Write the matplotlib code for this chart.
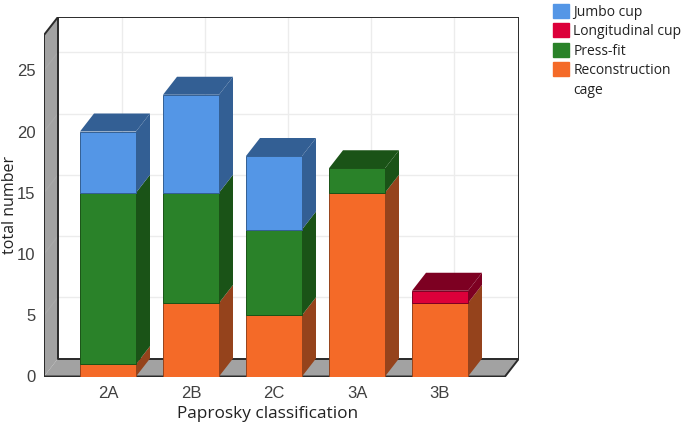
"""Stacked pseudo-3D bars of implant type per Paprosky class."""

import numpy as np
import matplotlib
matplotlib.use("Agg")
import matplotlib.pyplot as plt
from matplotlib.patches import Patch

categories = ["2A", "2B", "2C", "3A", "3B"]
reconstruction = [1, 6, 5, 15, 6]
press_fit = [14, 9, 7, 2, 0]
longitudinal = [0, 0, 0, 0, 1]
jumbo = [5, 8, 6, 0, 0]
y_ticks = [0, 5, 10, 15, 20, 25]
y_top = 27.88

series = [
    ("Reconstruction", reconstruction, "#f46a28", "#95431c"),
    ("Press-fit", press_fit, "#2a8229", "#1a5317"),
    ("Longitudinal cup", longitudinal, "#dc003a", "#7d0022"),
    ("Jumbo cup", jumbo, "#5496e6", "#335f94"),
]

W, H = 685, 424
PITCH = 83.0  # px per category
UNIT = 12.25  # px per count
DX = 14 / PITCH
DY = 18 / UNIT
BAR_W = 56 / PITCH
X_LEFT = -64 / PITCH
X_RIGHT = X_LEFT + 461 / PITCH

fig = plt.figure(figsize=(W / 100, H / 100), dpi=100)
ax_left, ax_bottom = 44, H - 376.5
ax_w = 475
ax_h = (y_top * UNIT) + 18
ax = fig.add_axes([ax_left / W, ax_bottom / H, ax_w / W, ax_h / H])
ax.set_xlim(X_LEFT, X_LEFT + ax_w / PITCH)
ax.set_ylim(0, ax_h / UNIT)
for spine in ax.spines.values():
    spine.set_visible(False)
ax.patch.set_alpha(0)

EDGE = "#2a2a2a"
GRID = "#ececec"

# walls and floor
ax.fill([X_LEFT, X_LEFT + DX, X_LEFT + DX, X_LEFT],
        [0, DY, y_top + DY, y_top], color="#a2a2a2", lw=0, zorder=1)
ax.fill([X_LEFT, X_RIGHT, X_RIGHT + DX, X_LEFT + DX],
        [0, 0, DY, DY], color="#a2a2a2", lw=0, zorder=1)

# grid sits on the back wall, with faint traces across the side wall
for v in y_ticks[1:]:
    ax.plot([X_LEFT + DX, X_RIGHT + DX], [v + DY, v + DY], color=GRID, lw=1.0, zorder=1.5)
    ax.plot([X_LEFT, X_LEFT + DX], [v, v + DY], color="#a9a9a9", lw=0.8, zorder=1.5)
for i in range(len(categories)):
    ax.plot([i + DX, i + DX], [DY, y_top + DY], color=GRID, lw=1.0, zorder=1.5)

ax.plot([X_LEFT + DX, X_RIGHT + DX, X_RIGHT + DX, X_LEFT + DX, X_LEFT + DX],
        [y_top + DY, y_top + DY, DY, DY, y_top + DY], color=EDGE, lw=1.4, zorder=2)
ax.plot([X_LEFT + DX, X_LEFT, X_LEFT, X_RIGHT, X_RIGHT + DX],
        [y_top + DY, y_top, 0, 0, DY], color=EDGE, lw=1.4, zorder=2)

# stacked bars, left to right so later bars overlap properly
bottoms = np.zeros(len(categories))
tops = np.sum([s[1] for s in series], axis=0)
for name, values, front, dark in series:
    values = np.array(values, dtype=float)
    for i, (v, b) in enumerate(zip(values, bottoms)):
        if v == 0:
            continue
        x0 = i - BAR_W / 2
        x1 = i + BAR_W / 2
        ax.bar(i, v, BAR_W, bottom=b, color=front, edgecolor=dark, lw=0.7, zorder=3)
        ax.fill([x1, x1 + DX, x1 + DX, x1], [b, b + DY, b + v + DY, b + v],
                color=dark, lw=0, zorder=3)
        if b + v == tops[i]:
            ax.fill([x0, x1, x1 + DX, x0 + DX],
                    [b + v, b + v, b + v + DY, b + v + DY], color=dark, lw=0, zorder=3)
    bottoms += values

ax.set_xticks(range(len(categories)), categories)
ax.set_yticks(y_ticks)
ax.tick_params(length=0, labelsize=12, labelcolor="#404040", pad=6)
ax.tick_params(axis="x", pad=7)
for label in ax.get_xticklabels() + ax.get_yticklabels():
    label.set_family("Liberation Sans")

fig.text(268 / W, 1 - 414 / H, "Paprosky classification", family="Open Sans",
         fontsize=12.4, color="#222222", ha="center", va="center")
fig.text(10 / W, 1 - 205 / H, "total number", family="Open Sans", fontsize=11.5,
         color="#222222", rotation=90, ha="center", va="center")

# second line of the last label gets its own row with an empty key
handles = [Patch(color=s[2], label=s[0]) for s in reversed(series)]
handles.append(Patch(color="none", label="cage"))
fig.legend(handles=handles, loc="upper left", bbox_to_anchor=(553 / W, 1 - 4 / H),
           frameon=False, borderpad=0, borderaxespad=0, handlelength=1.15,
           handleheight=1.15, handletextpad=0.3, labelspacing=0.28,
           prop={"family": "Open Sans", "size": 10}, labelcolor="#222222")

fig.savefig("out.png", dpi=100)
plt.close(fig)
